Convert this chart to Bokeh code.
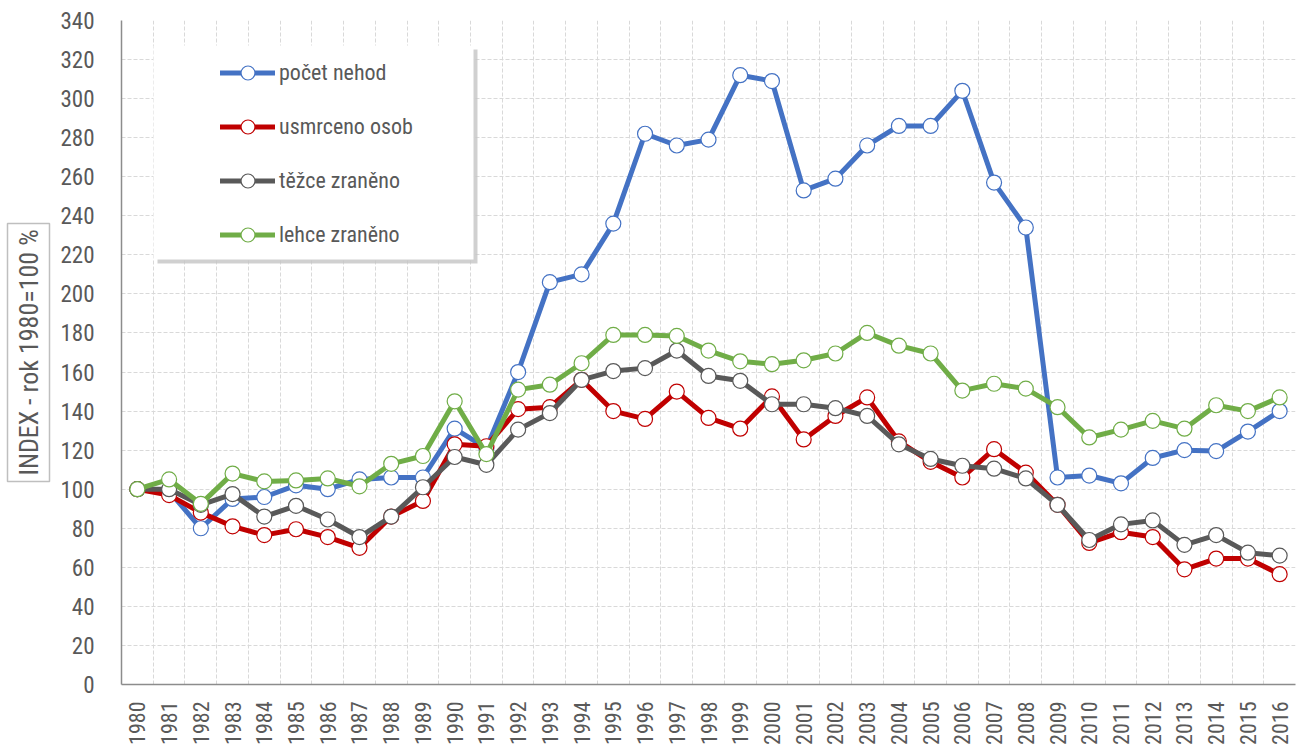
import math
from bokeh.plotting import figure
from bokeh.models import (FixedTicker, Legend, LegendItem, BoxAnnotation, Title,
                          ColumnDataSource, Range1d)
from bokeh.embed import file_html
from bokeh.resources import INLINE

years = list(range(1980, 2017))
y_ticks = list(range(0, 341, 20))

pocet_nehod = [100, 99, 80, 95, 96, 102, 100, 105, 106, 106, 131, 121, 160, 206, 210,
               236, 282, 276, 279, 312, 309, 253, 259, 276, 286, 286, 304, 257, 234,
               106, 107, 103, 116, 120, 119.5, 129.5, 140]
usmrceno_osob = [100, 97, 88, 81, 76.5, 79.5, 75.5, 70, 86, 94, 123, 122, 141, 142, 156,
                 140, 136, 150, 136.5, 131, 147.5, 125.5, 137.5, 147, 124.5, 114, 106, 120.5,
                 108.5, 92, 72.5, 78, 75.5, 59, 64.5, 64.5, 56.5]
tezce_zraneno = [100, 100, 92, 97.5, 86, 91.5, 84.5, 75.5, 86, 101, 116.5, 112.5, 130.5, 139,
                 156, 160.5, 162, 171, 158, 155.5, 143.5, 143.5, 141.5, 137.5, 123, 115.5,
                 112, 110.5, 105.5, 92, 74, 82, 84, 71.5, 76.5, 67.5, 66]
lehce_zraneno = [100, 105, 92.5, 108, 104, 104.5, 105.5, 101.5, 113, 117, 145, 118, 151,
                 153.5, 164.5, 179, 179, 178.5, 171, 165.5, 164, 166, 169.5, 180, 173.5,
                 169.5, 150.5, 154, 151.5, 142, 126.5, 130.5, 135, 131, 143, 140, 147]

series_names = ["počet nehod", "usmrceno osob", "těžce zraněno", "lehce zraněno"]
series_values = [pocet_nehod, usmrceno_osob, tezce_zraneno, lehce_zraneno]
series_colors = ["#4472C4", "#C00000", "#595959", "#70AD47"]

y_label = "INDEX - rok 1980=100 %"

FONT = "'Liberation Sans Narrow', 'Arial Narrow', 'Roboto Condensed', sans-serif"
TEXT_COLOR = "#595959"

p = figure(width=1303, height=744, output_backend="svg", toolbar_location=None,
           x_range=Range1d(years[0] - 0.5, years[-1] + 0.5),
           y_range=Range1d(0, 340),
           frame_width=1174, frame_height=664)
p.min_border_left = 121
p.min_border_right = 8
p.min_border_top = 20
p.min_border_bottom = 60
p.outline_line_color = None
p.background_fill_color = "white"

# axes
p.xaxis.ticker = FixedTicker(ticks=years)
p.yaxis.ticker = FixedTicker(ticks=y_ticks)
p.xaxis.major_label_orientation = math.pi / 2
for ax in (p.xaxis, p.yaxis):
    ax.major_tick_line_color = None
    ax.minor_tick_line_color = None
    ax.axis_line_color = "#8c8c8c"
    ax.axis_line_width = 1.5
    ax.major_label_text_font = FONT
    ax.major_label_text_font_size = "22px"
    ax.major_label_text_color = TEXT_COLOR
p.yaxis.major_label_text_font_size = "23px"
p.xaxis.major_label_standoff = 11
p.yaxis.major_label_standoff = 21

# y-axis title in a framed box on the left
ytitle = Title(text=y_label, align="center", vertical_align="top",
               text_font=FONT, text_font_size="26px",
               text_font_style="normal", text_color=TEXT_COLOR,
               background_fill_color="white", border_line_color="#bfbfbf",
               border_line_width=1.5, padding=6, standoff=12)
p.add_layout(ytitle, "left")

# grids
p.xgrid.ticker = FixedTicker(ticks=[y + 0.5 for y in years])
p.ygrid.ticker = FixedTicker(ticks=y_ticks)
for g in (p.xgrid, p.ygrid):
    g.grid_line_color = "#d9d9d9"
    g.grid_line_dash = "4 2"
    g.grid_line_width = 1

items = []
for name, vals, col in zip(series_names, series_values, series_colors):
    src = ColumnDataSource(dict(x=years, y=vals))
    ln = p.line("x", "y", source=src, line_color=col, line_width=5, line_join="round",
                line_cap="round")
    sc = p.scatter("x", "y", source=src, size=15, fill_color="white", line_color=col,
                   line_width=1.2)
    items.append(LegendItem(label=name, renderers=[ln, sc]))

def screen_box(left, right, top, bottom, color, alpha=1.0):
    return BoxAnnotation(left=left, right=right, top=top, bottom=bottom,
                         left_units="screen", right_units="screen",
                         top_units="screen", bottom_units="screen",
                         fill_color=color, fill_alpha=alpha, line_color=None)

# legend box with shadow
p.add_layout(screen_box(36, 356, 635, 421, "#c4c4c4", 0.8))
p.add_layout(screen_box(32, 352, 639, 425, "white", 1.0))

legend = Legend(items=items, location=(99, 432), orientation="vertical",
                background_fill_alpha=0, border_line_color=None, padding=0, margin=0,
                glyph_width=55, glyph_height=35, label_height=28, spacing=19,
                label_standoff=4, label_text_font=FONT, label_text_font_size="22px",
                label_text_color=TEXT_COLOR)
p.add_layout(legend, "center")

open("out.html", "w").write(file_html(p, INLINE))
